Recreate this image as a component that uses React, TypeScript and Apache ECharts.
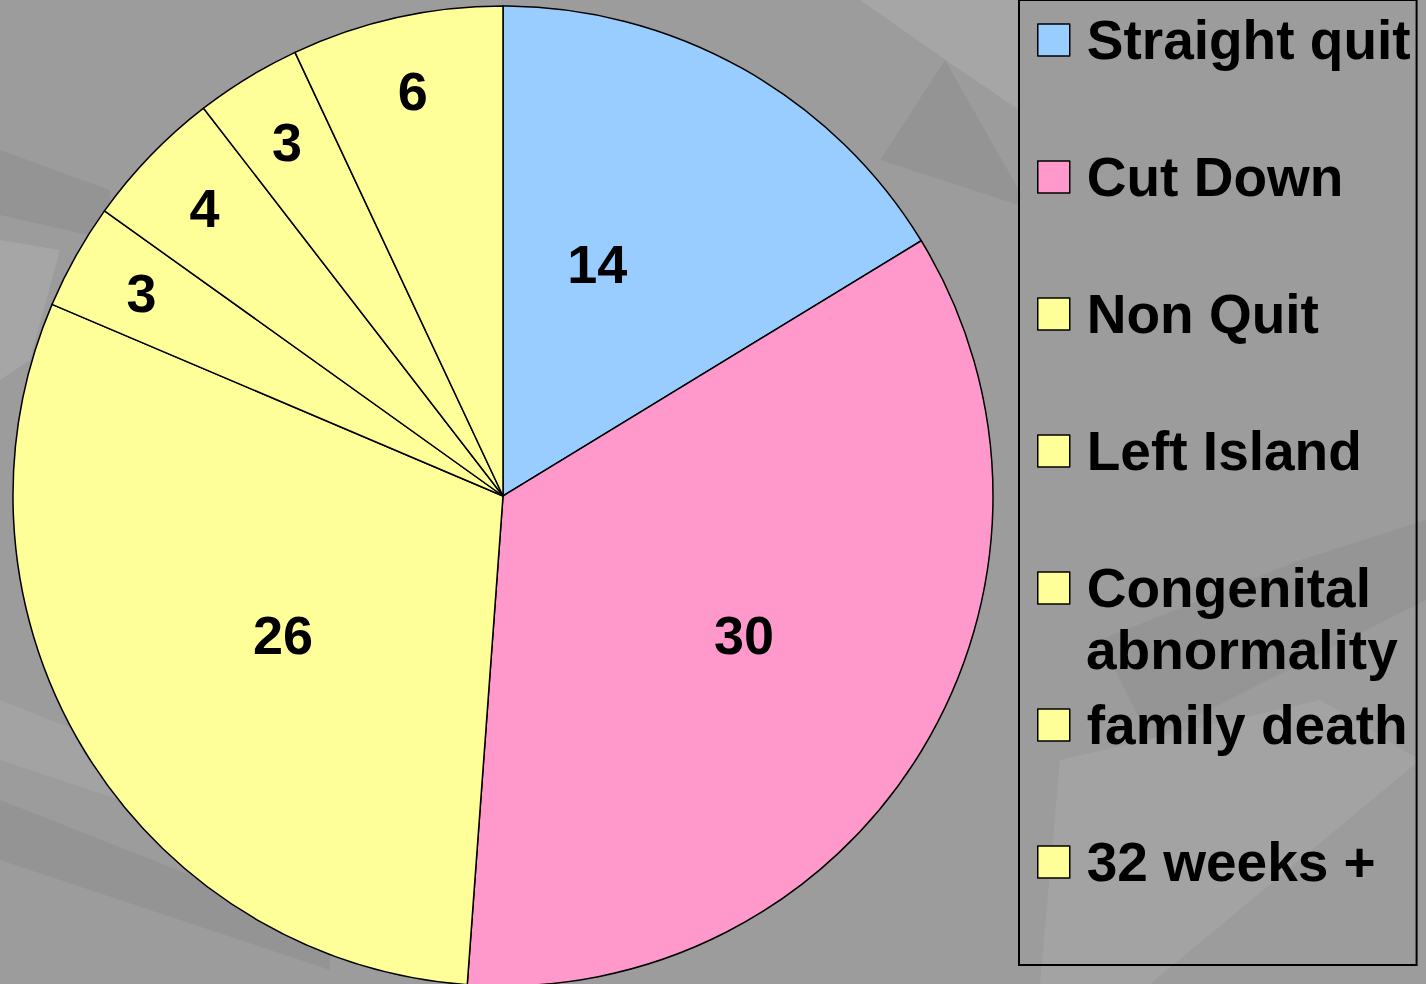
import React, { useEffect, useRef } from "react";
import * as echarts from "echarts";

const categories = [
  "Straight quit",
  "Cut Down",
  "Non Quit",
  "Left Island",
  "Congenital abnormality",
  "family death",
  "32 weeks +",
];
const values = [14, 30, 26, 3, 4, 3, 6];
const colors = ["#99CCFF", "#FF99CC", "#FFFF99", "#FFFF99", "#FFFF99", "#FFFF99", "#FFFF99"];

const FONT = "'Liberation Sans', Arial, Helvetica, sans-serif";

// label nudges (text padding) for the big inner labels, to mimic the original placement
const labelPadding: Record<number, number[]> = {
  0: [0, 72, 6, 0],
  1: [0, 0, 12, 28],
  2: [0, 0, 0, 14],
};

// the legend entry whose text wraps onto a second line
const WRAPPED = "Congenital abnormality";

export default function App() {
  const ref = useRef<HTMLDivElement>(null);
  useEffect(() => {
    document.body.style.margin = "0";
    const chart = echarts.init(ref.current!, null, { renderer: "svg" });
    const labelStyle = {
      fontFamily: FONT,
      fontWeight: "bold" as const,
      fontSize: 54,
      color: "#000",
    };
    const baseData = categories.map((name, i) => ({
      name,
      value: values[i],
      itemStyle: { color: colors[i] },
    }));
    const labelData = (big: boolean) =>
      categories.map((name, i) => ({
        name,
        value: values[i],
        label: {
          show: big ? values[i] >= 10 : values[i] < 10,
          padding: big && labelPadding[i] ? labelPadding[i] : 0,
        },
      }));
    const common = {
      type: "pie" as const,
      center: [503, 496],
      startAngle: 90,
      clockwise: true,
      silent: true,
      avoidLabelOverlap: false,
      labelLine: { show: false },
      emphasis: { disabled: true },
    };
    const wrapParts = WRAPPED.split(" ");
    const legendLeft = 1019;
    const legendPadTop = 9;
    const itemH = 62;
    const itemGap = 75;
    const wrappedIndex = categories.indexOf(WRAPPED);
    const secondLineY = legendPadTop + wrappedIndex * (itemH + itemGap) + itemH + itemH / 2;
    chart.setOption({
      animation: false,
      backgroundColor: "#9c9c9c",
      graphic: [
        { type: "polygon", shape: { points: [[860, 0], [1019, 0], [1019, 110], [960, 70]] }, style: { fill: "rgba(255,255,255,0.1)" } },
        { type: "polygon", shape: { points: [[945, 60], [1019, 190], [1019, 205], [880, 160]] }, style: { fill: "rgba(0,0,0,0.05)" } },
        { type: "polygon", shape: { points: [[0, 150], [110, 190], [110, 240], [0, 215]] }, style: { fill: "rgba(0,0,0,0.05)" } },
        { type: "polygon", shape: { points: [[0, 240], [60, 250], [30, 360], [0, 380]] }, style: { fill: "rgba(255,255,255,0.1)" } },
        { type: "polygon", shape: { points: [[0, 700], [300, 820], [300, 860], [0, 760]] }, style: { fill: "rgba(255,255,255,0.08)" } },
        { type: "polygon", shape: { points: [[0, 800], [330, 930], [330, 970], [0, 860]] }, style: { fill: "rgba(0,0,0,0.05)" } },
        { type: "polygon", shape: { points: [[1060, 760], [1320, 700], [1420, 760], [1150, 984], [1040, 984]] }, style: { fill: "rgba(255,255,255,0.08)" } },
        { type: "polygon", shape: { points: [[1100, 640], [1300, 560], [1426, 520], [1426, 600], [1150, 740]] }, style: { fill: "rgba(0,0,0,0.04)" } },
        {
          type: "text",
          x: legendLeft + 18 + 32 + 5 + 12,
          y: secondLineY,
          z: 10,
          style: {
            text: wrapParts.slice(1).join(" "),
            fontFamily: FONT,
            fontWeight: "bold",
            fontSize: 55,
            fill: "#000",
            verticalAlign: "middle",
            align: "left",
          },
        },
      ],
      legend: {
        orient: "vertical",
        left: legendLeft,
        top: 0,
        padding: [legendPadTop, 6, 72, 18],
        itemGap,
        itemWidth: 32,
        itemHeight: 32,
        icon: "rect",
        borderColor: "#000",
        borderWidth: 2,
        selectedMode: false,
        data: categories,
        itemStyle: { borderColor: "#000", borderWidth: 1.5 },
        formatter: (name: string) => (name === WRAPPED ? wrapParts[0] : name),
        textStyle: {
          fontFamily: FONT,
          fontWeight: "bold",
          fontSize: 55,
          color: "#000",
          lineHeight: itemH,
          padding: [0, 0, 0, 12],
        },
      },
      series: [
        {
          ...common,
          name: "slices",
          radius: [0, 490],
          label: { show: false },
          itemStyle: { borderColor: "#000", borderWidth: 1.5 },
          data: baseData,
        },
        {
          ...common,
          name: "innerLabels",
          radius: [36, 490],
          itemStyle: { color: "rgba(0,0,0,0)", borderWidth: 0 },
          label: { position: "inside", formatter: "{c}", ...labelStyle },
          data: labelData(true),
        },
        {
          ...common,
          name: "outerLabels",
          radius: [333, 490],
          itemStyle: { color: "rgba(0,0,0,0)", borderWidth: 0 },
          label: { position: "inside", formatter: "{c}", ...labelStyle },
          data: labelData(false),
        },
      ],
    });
    return () => chart.dispose();
  }, []);
  return <div ref={ref} style={{ width: 1426, height: 984 }} />;
}
